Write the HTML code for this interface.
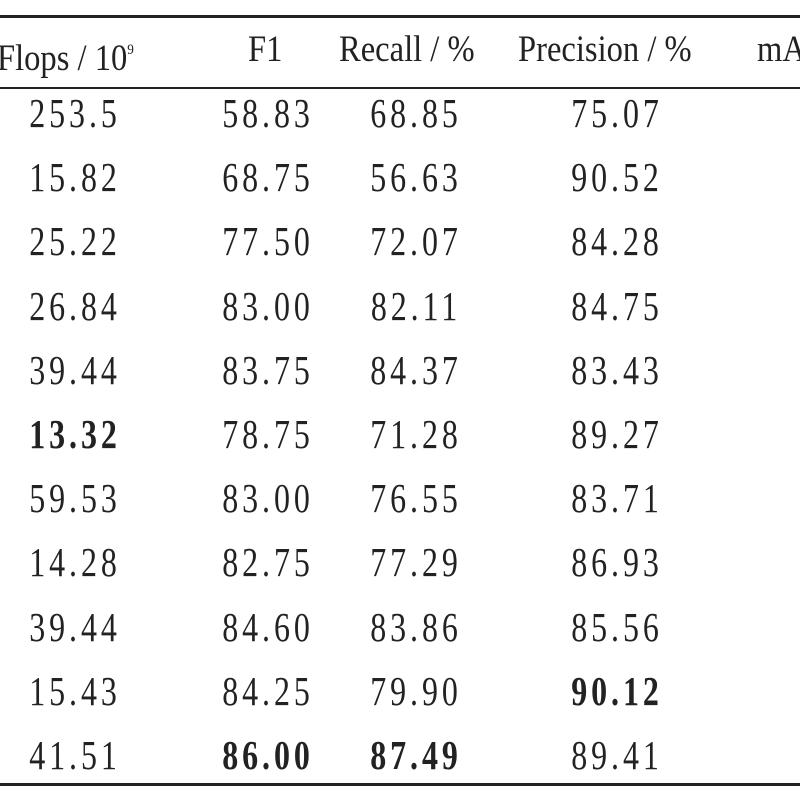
<!DOCTYPE html>
<html><head><style>
html,body{margin:0;padding:0;background:#fff;width:800px;height:800px;overflow:hidden;position:relative;font-family:"Liberation Serif","Noto Serif CJK SC",serif;color:#222}
.l{position:absolute;left:0;width:800px;background:#222}
.t{position:absolute;font-size:41px;line-height:40px;white-space:nowrap;transform:translateX(-50%) scaleX(0.78);letter-spacing:5px}
.h{position:absolute;font-size:37px;line-height:40px;white-space:nowrap;transform:scaleX(0.88);transform-origin:0 50%}
b{font-weight:bold}
</style></head><body>
<div class="l" style="top:15px;height:3px"></div>
<div class="l" style="top:87px;height:2px"></div>
<div class="l" style="top:783px;height:3px"></div>
<div class="h" style="left:-3px;top:30px">Flops / 10<sup style="font-size:15px;vertical-align:16px">9</sup></div>
<div class="h" style="left:248px;top:30px">F1</div>
<div class="h" style="left:339px;top:30px">Recall / %</div>
<div class="h" style="left:518px;top:30px">Precision / %</div>
<div class="h" style="left:757px;top:30px">mA</div>
<div id="rows"></div>
<script>
var d=[["253.5","58.83","68.85","75.07"],["15.82","68.75","56.63","90.52"],["25.22","77.50","72.07","84.28"],["26.84","83.00","82.11","84.75"],["39.44","83.75","84.37","83.43"],["*13.32","78.75","71.28","89.27"],["59.53","83.00","76.55","83.71"],["14.28","82.75","77.29","86.93"],["39.44","84.60","83.86","85.56"],["15.43","84.25","79.90","*90.12"],["41.51","*86.00","*87.49","89.41"]];
var xs=[75,268,416,617],h="";
d.forEach(function(r,i){var y=113+i*64.2-20;r.forEach(function(v,j){var b=v[0]=="*";if(b)v=v.slice(1);h+='<div class="t" style="left:'+xs[j]+'px;top:'+y+'px">'+(b?'<b>'+v+'</b>':v)+'</div>';});});
document.getElementById("rows").innerHTML=h;
</script>
</body></html>
